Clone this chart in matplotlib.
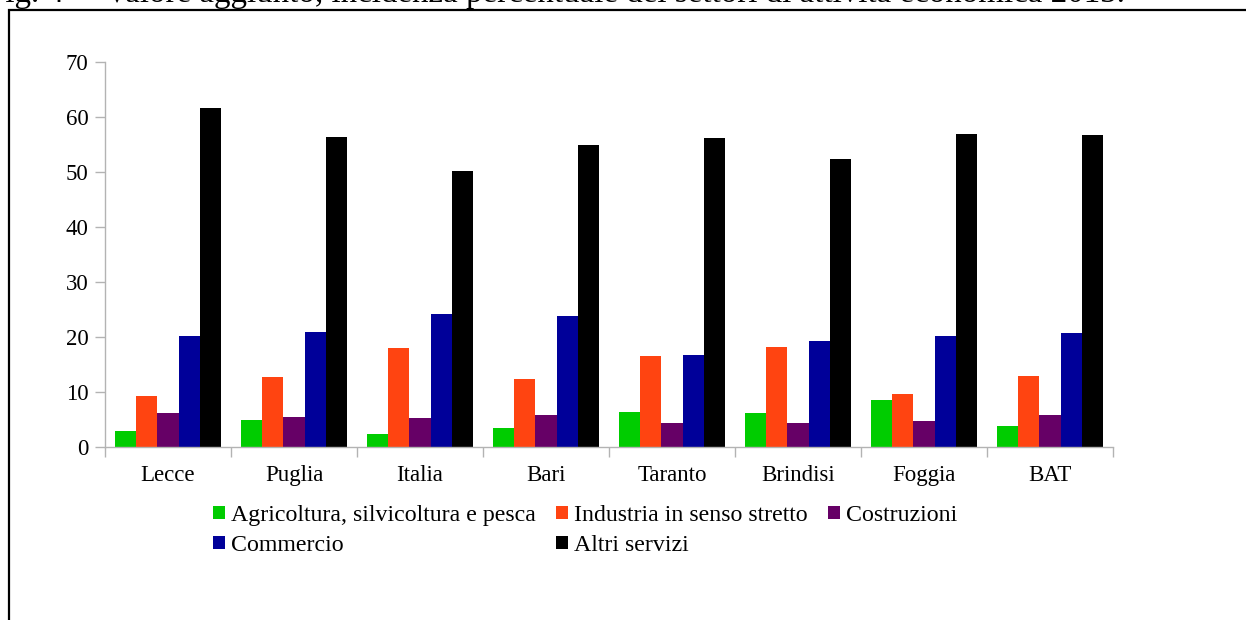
import numpy as np
import matplotlib
matplotlib.use('Agg')
import matplotlib.pyplot as plt
from matplotlib.patches import Rectangle

# data
categories = ['Lecce', 'Puglia', 'Italia', 'Bari', 'Taranto', 'Brindisi', 'Foggia', 'BAT']
agricoltura = [3.0, 4.9, 2.3, 3.4, 6.3, 6.1, 8.5, 3.9]
industria = [9.2, 12.7, 18.0, 12.3, 16.5, 18.1, 9.6, 13.0]
costruzioni = [6.1, 5.4, 5.3, 5.8, 4.3, 4.3, 4.8, 5.8]
commercio = [20.1, 20.9, 24.2, 23.8, 16.7, 19.2, 20.1, 20.7]
altri_servizi = [61.6, 56.4, 50.2, 54.9, 56.2, 52.4, 56.9, 56.7]

series_names = ['Agricoltura, silvicoltura e pesca', 'Industria in senso stretto',
                'Costruzioni', 'Commercio', 'Altri servizi']
series_values = [agricoltura, industria, costruzioni, commercio, altri_servizi]
colors = ['#00cc00', '#ff4411', '#660066', '#000099', '#000000']

title_text = 'Valore aggiunto, incidenza percentuale dei settori di attività economica 2013.'

serif = ['Liberation Serif', 'DejaVu Serif']
plt.rcParams['font.family'] = serif

W, H = 1246, 620
fig = plt.figure(figsize=(W / 100, H / 100), dpi=100)

# axes placed in pixel terms
x0, x1 = 105, 1113
y0, y1 = 447, 62
ax = fig.add_axes([x0 / W, 1 - y0 / H, (x1 - x0) / W, (y0 - y1) / H])

x = np.arange(len(categories))
bw = 0.168
handles = []
for i, (name, vals, c) in enumerate(zip(series_names, series_values, colors)):
    b = ax.bar(x + (i - 2) * bw, vals, width=bw, color=c, label=name, linewidth=0)
    handles.append(b)

ax.set_xlim(-0.5, len(categories) - 0.5)
ax.set_ylim(0, 70)
ax.set_yticks(range(0, 71, 10))

# category boundaries get the tick marks, centers get the labels
ax.set_xticks(np.arange(-0.5, len(categories), 1.0))
ax.set_xticklabels([])
ax.set_xticks(x, minor=True)
ax.set_xticklabels(categories, minor=True)
ax.tick_params(axis='x', which='minor', length=0, pad=13, labelsize=16.5)
ax.tick_params(axis='x', which='major', length=7, color='#b3b3b3', width=1)
ax.tick_params(axis='y', length=7, color='#b3b3b3', width=1, pad=5, labelsize=16.5)

for s in ['top', 'right']:
    ax.spines[s].set_visible(False)
for s in ['left', 'bottom']:
    ax.spines[s].set_color('#b3b3b3')
    ax.spines[s].set_linewidth(1)

# legend in row-major order
order = [0, 3, 1, 4, 2]
leg = fig.legend([handles[k] for k in order], [series_names[k] for k in order],
                 ncol=3, loc='upper left', bbox_to_anchor=(213 / W, 1 - 505 / H),
                 frameon=False, prop={'family': serif, 'size': 17.2},
                 handlelength=0.5, handleheight=0.5,
                 handletextpad=0.25, columnspacing=0.85, labelspacing=0.38,
                 borderpad=0, borderaxespad=0)

# frame of the page box, cropped on the right and bottom
fig.add_artist(Rectangle((9 / W, -0.1), 1.2, 1.1 - 10 / H, transform=fig.transFigure,
                         fill=False, edgecolor='black', linewidth=1.6))

# title mostly cut off at the top edge
fig.text(-13 / W, 1 - 2 / H, 'Fig. 4', fontsize=23.8, va='baseline', ha='left')
fig.text(105 / W, 1 - 2 / H, title_text, fontsize=23.8, va='baseline', ha='left')

fig.savefig('out.png', dpi=100)
